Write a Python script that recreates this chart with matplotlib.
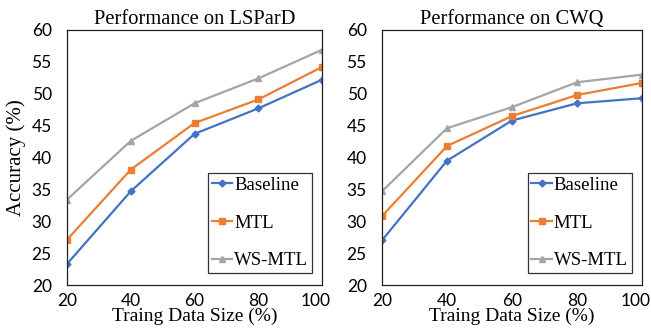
import numpy as np
import matplotlib
matplotlib.use('Agg')
import matplotlib.pyplot as plt
from matplotlib.transforms import ScaledTranslation

sizes = [20, 40, 60, 80, 100]
lspard_baseline = [23.3, 34.7, 43.7, 47.7, 52.2]
lspard_mtl = [27.1, 38.1, 45.4, 49.1, 54.2]
lspard_wsmtl = [33.4, 42.6, 48.5, 52.4, 56.9]
cwq_baseline = [27.0, 39.5, 45.8, 48.5, 49.3]
cwq_mtl = [30.8, 41.8, 46.5, 49.8, 51.7]
cwq_wsmtl = [34.7, 44.6, 47.9, 51.8, 53.0]
yticks = [20, 25, 30, 35, 40, 45, 50, 55, 60]

serif = 'Liberation Serif'
sans = 'Lato'

fig = plt.figure(figsize=(6.51, 3.31), dpi=100)
ax1 = fig.add_axes([67 / 651, 1 - 285 / 331, 255 / 651, 255 / 331])
ax2 = fig.add_axes([382 / 651, 1 - 285 / 331, 260 / 651, 255 / 331])

styles = [('Baseline', '#4472C4', 'D', 3.5),
          ('MTL', '#ED7D31', 's', 5),
          ('WS-MTL', '#A5A5A5', '^', 4.5)]


def panel(ax, data, title):
    for (name, c, m, ms), ys in zip(styles, data):
        ax.plot(sizes, ys, color=c, marker=m, markersize=ms, lw=1.6, label=name)
    ax.set_xlim(20, 100)
    ax.set_ylim(20, 60)
    ax.set_xticks(sizes)
    ax.set_yticks(yticks)
    ax.tick_params(length=0, labelsize=12.5)
    ax.tick_params(axis='y', pad=11)
    ax.tick_params(axis='x', pad=6)
    for lab in ax.get_xticklabels() + ax.get_yticklabels():
        lab.set_family(sans)
    # last x label sits a bit inside the right edge, like the original
    last = ax.xaxis.get_major_ticks()[-1].label1
    last.set_transform(last.get_transform() + ScaledTranslation(-6 / 100, 0, fig.dpi_scale_trans))
    for s in ax.spines.values():
        s.set_linewidth(0.9)
        s.set_color('#222222')
    ax.set_title(title, family=serif, fontsize=14.8, pad=4)
    ax.set_xlabel('Traing Data Size (%)', family=serif, fontsize=14, labelpad=-1)
    leg = ax.legend(loc='lower right', bbox_to_anchor=(0.96, 0.047), borderaxespad=0,
                    prop={'family': serif, 'size': 13.5},
                    frameon=True, fancybox=False, edgecolor='black', borderpad=0.2,
                    labelspacing=1.1, handlelength=1.1, handletextpad=0.1)
    leg.get_frame().set_linewidth(0.9)


panel(ax1, [lspard_baseline, lspard_mtl, lspard_wsmtl], 'Performance on LSParD')
panel(ax2, [cwq_baseline, cwq_mtl, cwq_wsmtl], 'Performance on CWQ')
ax1.set_ylabel('Accuracy (%)', family=serif, fontsize=15, labelpad=4)

fig.savefig('out.png', dpi=100)
